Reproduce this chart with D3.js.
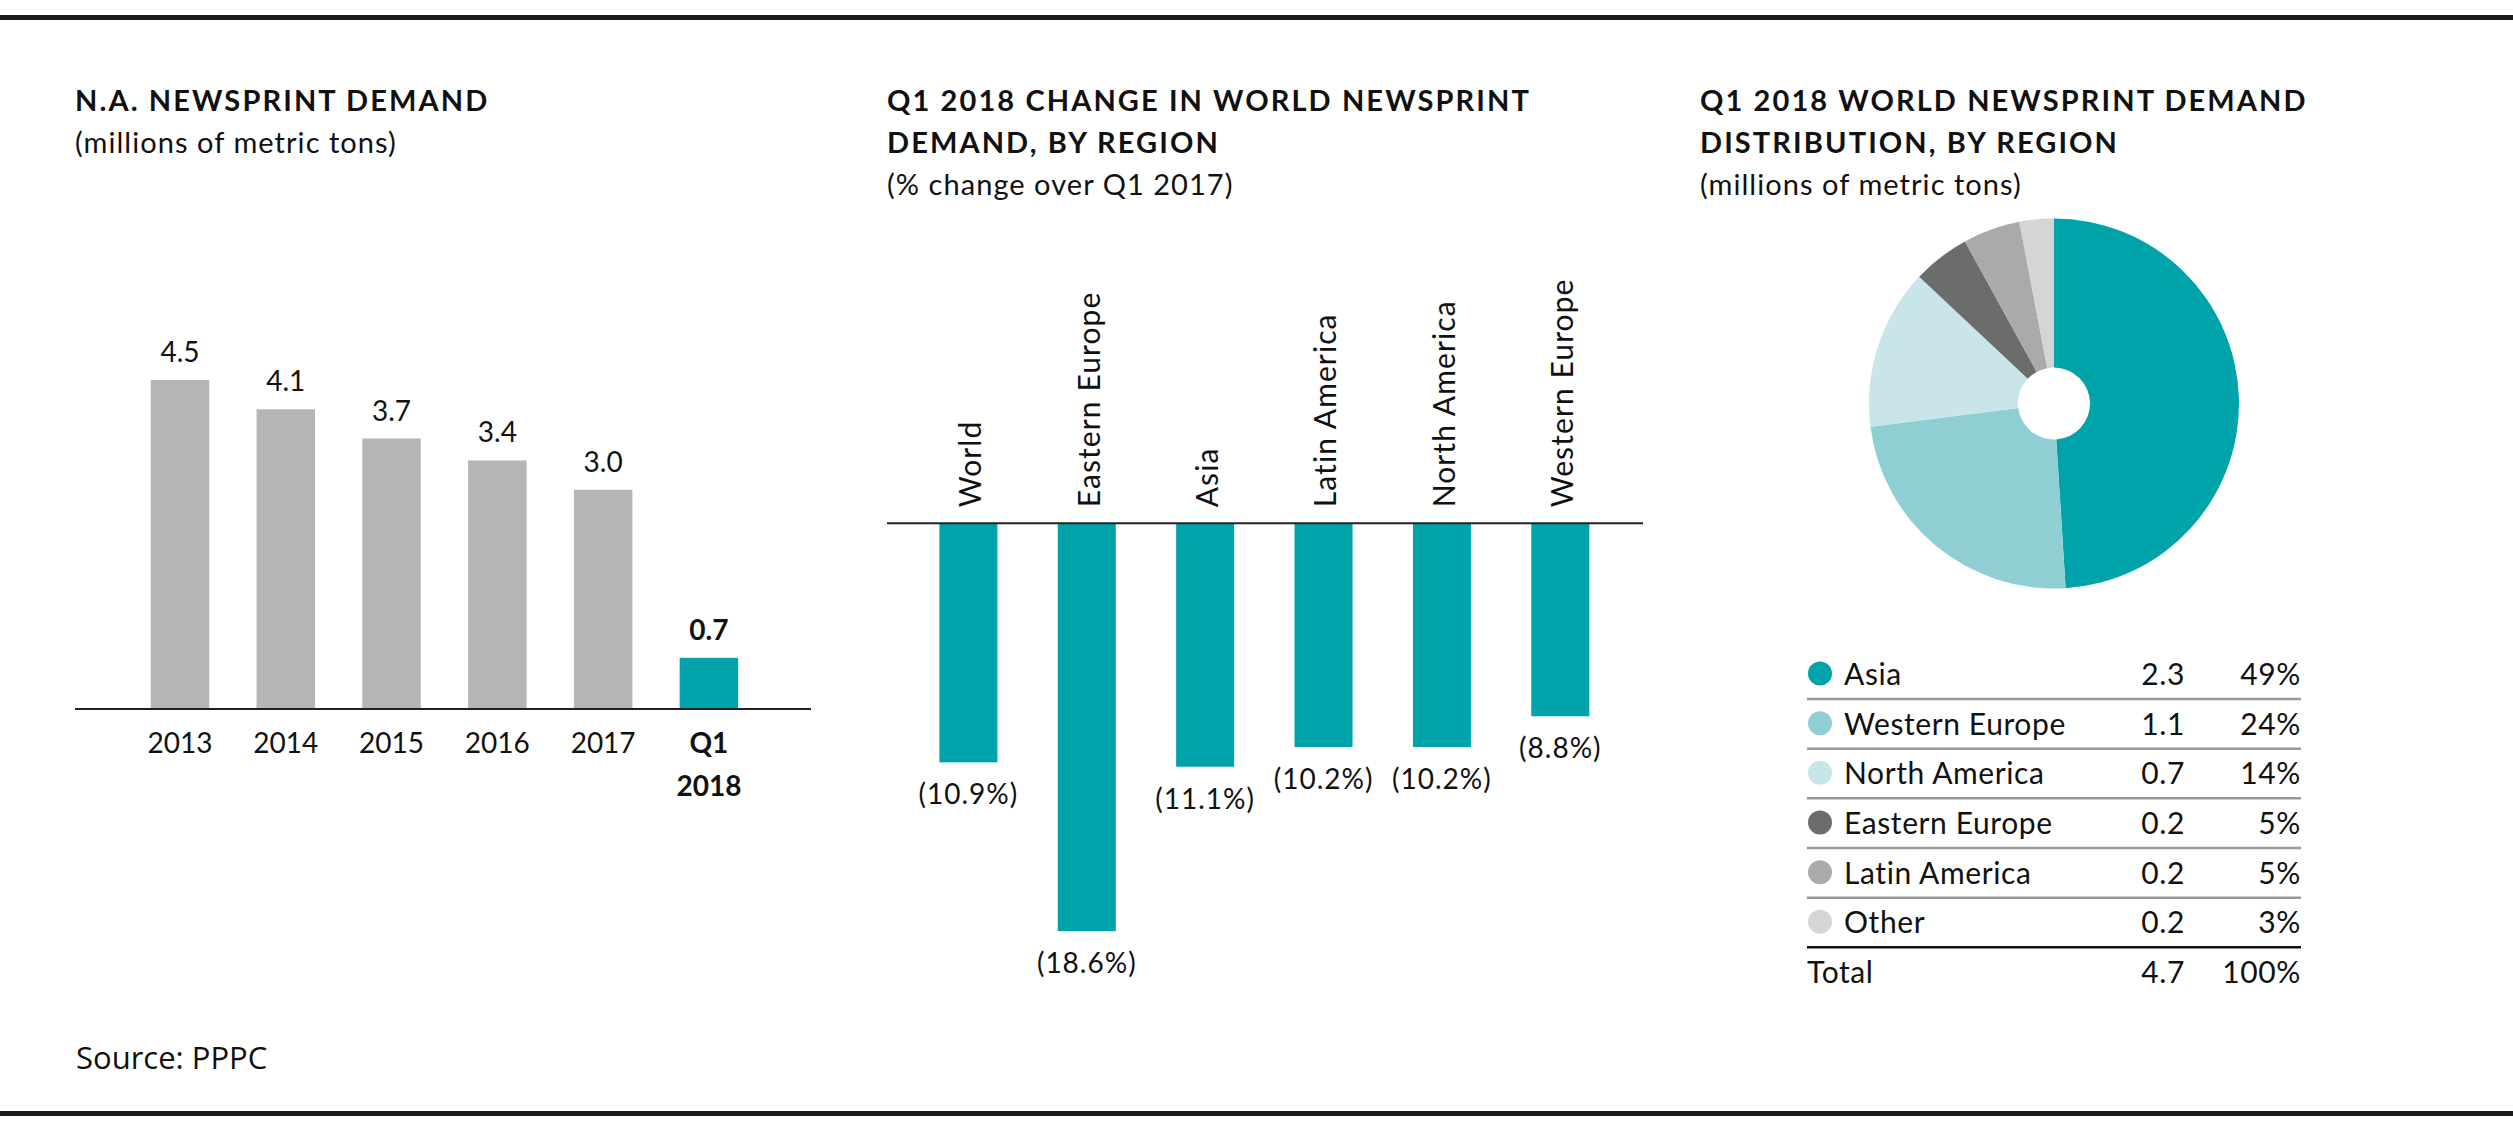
<!DOCTYPE html>
<html>
<head>
<meta charset="utf-8">
<script src="https://cdn.jsdelivr.net/npm/d3@7"></script>
<style>
  html, body { margin: 0; padding: 0; background: #ffffff; }
  svg { display: block; }
  .title { font-family: Lato, sans-serif; font-weight: 700; font-size: 29px; letter-spacing: 2.1px; fill: #111; }
  .sub { font-family: Lato, sans-serif; font-weight: 400; font-size: 29px; letter-spacing: 1.05px; fill: #111; }
  .lbl { font-family: Lato, sans-serif; font-weight: 400; font-size: 28px; fill: #111; }
  .pct { letter-spacing: 1px; }
  .bold { font-weight: 700; }
  .rot { font-family: Lato, sans-serif; font-weight: 400; font-size: 30px; letter-spacing: 1.1px; fill: #111; }
  .leg { font-family: Lato, sans-serif; font-weight: 400; font-size: 30px; letter-spacing: 0.6px; fill: #111; }
  .src { font-family: "Open Sans", sans-serif; font-weight: 400; font-size: 31px; fill: #111; }
</style>
</head>
<body>
<script>
// ---------------- DATA ----------------
const years = ["2013", "2014", "2015", "2016", "2017", "Q1 2018"];
const naDemand = [4.5, 4.1, 3.7, 3.4, 3.0, 0.7];

const regions = ["World", "Eastern Europe", "Asia", "Latin America", "North America", "Western Europe"];
const regionChange = [-10.9, -18.6, -11.1, -10.2, -10.2, -8.8];

const distRegions = ["Asia", "Western Europe", "North America", "Eastern Europe", "Latin America", "Other"];
const distValues = [2.3, 1.1, 0.7, 0.2, 0.2, 0.2];
const distShares = [49, 24, 14, 5, 5, 3];

const titles1 = ["N.A. NEWSPRINT DEMAND"];
const subtitle1 = "(millions of metric tons)";
const titles2 = ["Q1 2018 CHANGE IN WORLD NEWSPRINT", "DEMAND, BY REGION"];
const subtitle2 = "(% change over Q1 2017)";
const titles3 = ["Q1 2018 WORLD NEWSPRINT DEMAND", "DISTRIBUTION, BY REGION"];
const subtitle3 = "(millions of metric tons)";
const sourceText = "Source: PPPC";

// ---------------- STYLE ----------------
const TEAL = "#00a3a9";
const GREY_BAR = "#b4b5b7";
const pieColors = ["#00a3a9", "#8fcfd4", "#c8e6ea", "#6b6c6c", "#a9aaab", "#d4d5d5"];

const W = 2513, H = 1140;
const svg = d3.select("body").append("svg").attr("width", W).attr("height", H);
svg.append("rect").attr("width", W).attr("height", H).attr("fill", "#fff");

// rules
svg.append("rect").attr("x", 0).attr("y", 15).attr("width", W).attr("height", 5).attr("fill", "#1a1a1a");
svg.append("rect").attr("x", 0).attr("y", 1111).attr("width", W).attr("height", 5).attr("fill", "#1a1a1a");

function titleBlock(x, lines, sub) {
  const g = svg.append("g");
  lines.forEach((t, i) => {
    g.append("text").attr("class", "title").attr("x", x).attr("y", 111 + i * 42).text(t);
  });
  g.append("text").attr("class", "sub").attr("x", x).attr("y", 153 + (lines.length - 1) * 42).text(sub);
}
titleBlock(75, titles1, subtitle1);
titleBlock(887, titles2, subtitle2);
titleBlock(1700, titles3, subtitle3);

// ---------------- CHART 1 ----------------
{
  const g = svg.append("g");
  const x = d3.scaleBand().domain(years).range([127.1, 761.8]).paddingInner(0.447).paddingOuter(0.2235);
  const y = d3.scaleLinear().domain([0, 5]).range([709, 709 - 365.5]);
  const data = years.map((k, i) => ({ k, v: naDemand[i], last: i === years.length - 1 }));

  g.selectAll("rect.bar").data(data).join("rect").attr("class", "bar")
    .attr("x", d => x(d.k)).attr("width", x.bandwidth())
    .attr("y", d => y(d.v)).attr("height", d => y(0) - y(d.v))
    .attr("fill", d => d.last ? TEAL : GREY_BAR);

  g.append("line").attr("x1", 75).attr("x2", 811).attr("y1", y(0)).attr("y2", y(0))
    .attr("stroke", "#222").attr("stroke-width", 2);

  g.selectAll("text.val").data(data).join("text")
    .attr("class", d => "lbl val" + (d.last ? " bold" : ""))
    .attr("x", d => x(d.k) + x.bandwidth() / 2).attr("y", d => y(d.v) - 18)
    .attr("text-anchor", "middle").text(d => d3.format(".1f")(d.v));

  const xa = g.append("g").attr("transform", `translate(0,${y(0)})`)
    .call(d3.axisBottom(x).tickSize(0).tickPadding(0).tickFormat(() => ""));
  xa.select(".domain").remove();
  xa.selectAll(".tick").each(function (d, i) {
    const t = d3.select(this).select("text").text(null)
      .attr("class", "lbl" + (i === years.length - 1 ? " bold" : ""))
      .attr("fill", null).attr("font-family", null).attr("font-size", null)
      .attr("y", 44).attr("dy", null);
    d.split(" ").forEach((p, j) => {
      t.append("tspan").attr("x", 0).attr("dy", j === 0 ? 0 : 43).text(p);
    });
  });
}

// ---------------- CHART 2 ----------------
{
  const g = svg.append("g");
  const x = d3.scaleBand().domain(regions).range([909.2, 1619.5]).paddingInner(0.51).paddingOuter(0.255);
  const y = d3.scaleLinear().domain([-20, 0]).range([523.3 + 438.6, 523.3]);
  const data = regions.map((k, i) => ({ k, v: regionChange[i] }));

  g.selectAll("rect.bar").data(data).join("rect").attr("class", "bar")
    .attr("x", d => x(d.k)).attr("width", x.bandwidth())
    .attr("y", y(0)).attr("height", d => y(d.v) - y(0))
    .attr("fill", TEAL);

  g.append("line").attr("x1", 887).attr("x2", 1643).attr("y1", y(0)).attr("y2", y(0))
    .attr("stroke", "#222").attr("stroke-width", 2);

  g.selectAll("text.rl").data(data).join("text").attr("class", "rot rl")
    .attr("transform", d => `translate(${x(d.k) + x.bandwidth() / 2 + 2},${y(0) - 16}) rotate(-90)`)
    .attr("dy", "0.36em").text(d => d.k);

  g.selectAll("text.val").data(data).join("text").attr("class", "lbl pct val")
    .attr("x", d => x(d.k) + x.bandwidth() / 2).attr("y", d => y(d.v) + 42)
    .attr("text-anchor", "middle")
    .text(d => (d.v < 0 ? "(" + d3.format(".1f")(Math.abs(d.v)) + "%)" : d3.format(".1f")(d.v) + "%"));
}

// ---------------- CHART 3 ----------------
{
  const g = svg.append("g").attr("transform", "translate(2054,403.5)");
  const data = distRegions.map((k, i) => ({ k, v: distValues[i], s: distShares[i] }));
  const color = d3.scaleOrdinal().domain(distRegions).range(pieColors);
  const pie = d3.pie().sort(null).value(d => d.s);
  const arc = d3.arc().innerRadius(36).outerRadius(185);
  g.selectAll("path").data(pie(data)).join("path")
    .attr("d", arc).attr("fill", d => color(d.data.k));

  // legend table
  const lg = svg.append("g");
  const rowY = d3.scalePoint().domain(distRegions.concat(["Total"])).range([685, 983]);
  const xName = 1844, xVal = 2185, xPct = 2301, xL = 1807;
  data.forEach((d, i) => {
    const by = rowY(d.k);
    lg.append("circle").attr("cx", 1820).attr("cy", by - 11.5).attr("r", 12).attr("fill", color(d.k));
    lg.append("text").attr("class", "leg").attr("x", xName).attr("y", by).text(d.k);
    lg.append("text").attr("class", "leg").attr("x", xVal).attr("y", by).attr("text-anchor", "end")
      .attr("letter-spacing", "2px").text(d3.format(".1f")(d.v));
    lg.append("text").attr("class", "leg").attr("x", xPct).attr("y", by).attr("text-anchor", "end").text(d.s + "%");
    lg.append("line").attr("x1", xL).attr("x2", xPct).attr("y1", by + 14).attr("y2", by + 14)
      .attr("stroke", i === data.length - 1 ? "#111" : "#999").attr("stroke-width", 2.5);
  });
  const ty = rowY("Total");
  lg.append("text").attr("class", "leg").attr("x", xL).attr("y", ty).text("Total");
  lg.append("text").attr("class", "leg").attr("x", xVal).attr("y", ty).attr("text-anchor", "end")
    .text(d3.format(".1f")(d3.sum(distValues)));
  lg.append("text").attr("class", "leg").attr("x", xPct).attr("y", ty).attr("text-anchor", "end")
    .text(d3.sum(distShares) + "%");
}

// source
svg.append("text").attr("class", "src").attr("x", 76).attr("y", 1069).text(sourceText);
</script>
</body>
</html>
